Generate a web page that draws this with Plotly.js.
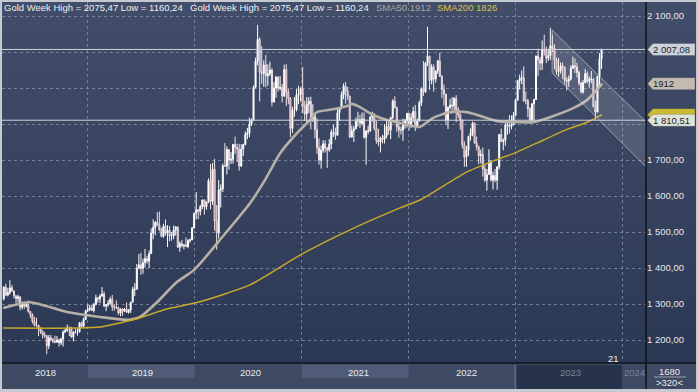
<!DOCTYPE html>
<html><head><meta charset="utf-8">
<script src="https://cdn.plot.ly/plotly-3.0.1.min.js"></script>
<style>
html,body{margin:0;padding:0;background:#c5c9d1;}
#wrap{position:relative;width:698px;height:392px;overflow:hidden;background:linear-gradient(to bottom,#414d69 0%,#36425e 50%,#2b3853 93%);}
#chart{position:absolute;left:0;top:0;width:698px;height:392px;}
#frame{position:absolute;left:0;top:0;width:698px;height:392px;box-sizing:border-box;border:2px solid #c5c9d1;border-bottom-width:3px;pointer-events:none;}
</style></head>
<body>
<div id="wrap"><div id="chart"></div><div id="frame"></div></div>
<script>
// ---- weekly OHLC, first bar = week of 2018-03-19 ----
const firstWeek = '2018-03-19';
const openPx = [
 1314,1347,1325,1332,1345,1336,1323,1315,1320,1291,1301,1294,1298,1279,1270,1252,1241,1241,1231,1223,1214,1212,1184,1206,1201,1197,1194,1200,1192,1203,1222,1227,1233,1233,1208,1222,1222,1222,1248,1238,1257,
 1281,1285,1289,1282,1298,1317,1314,1322,1328,1294,1298,1302,1313,1292,1291,1290,1275,1286,1280,1286,1277,1283,1305,1341,1341,1399,1409,1399,1415,1426,1419,1440,1497,1513,1527,1520,1507,1488,1516,1497,1505,1489,1490,1505,1514,1458,1468,1462,1464,1460,1476,1478,
 1511,1552,1562,1557,1571,1589,1570,1584,1643,1585,1674,1530,1498,1617,1620,1684,1683,1729,1700,1702,1743,1735,1730,1683,1730,1743,1771,1775,1799,1810,1902,1975,2035,1944,1940,1964,1934,1940,1950,1861,1900,1930,1899,1902,1878,1951,1889,1871,1788,1839,1839,1881,
 1883,1898,1850,1828,1855,1863,1814,1824,1784,1734,1700,1727,1745,1733,1728,1744,1777,1777,1769,1831,1844,1881,1905,1891,1877,1764,1781,1787,1808,1812,1802,1814,1763,1780,1781,1819,1827,1788,1754,1750,1761,1757,1768,1793,1783,1818,1864,1846,1792,1783,1783,1798,1808,
 1829,1797,1817,1835,1791,1808,1859,1898,1889,1970,1988,1921,1958,1925,1947,1975,1932,1896,1883,1811,1846,1853,1850,1871,1840,1826,1811,1742,1708,1727,1766,1775,1802,1747,1737,1712,1716,1675,1644,1660,1695,1644,1657,1644,1681,1771,1751,1755,1797,1797,1793,1798,
 1824,1866,1920,1926,1928,1865,1865,1842,1811,1856,1868,1989,1978,1969,2007,2004,1983,1990,2017,2011,1977,1946,1948,1961,1958,1921,1919,1925,1955,1962,1959,1943,1914,1889,1915,1940,1919,1924,1925,1849,1833,1932,1981
];
const highPx = [
 1349,1356,1345,1366,1353,1338,1324,1326,1321,1307,1307,1303,1310,1280,1274,1264,1262,1242,1235,1227,1222,1214,1214,1214,1206,1212,1211,1204,1207,1227,1233,1243,1237,1237,1225,1230,1231,1250,1251,1263,1284,
 1298,1298,1298,1303,1326,1320,1327,1347,1335,1300,1311,1320,1325,1300,1310,1293,1288,1289,1289,1304,1286,1306,1348,1358,1411,1439,1442,1426,1453,1434,1449,1510,1535,1530,1555,1557,1512,1523,1535,1519,1517,1500,1518,1516,1515,1474,1478,1466,1485,1480,1482,1514,
 1553,1611,1564,1575,1590,1591,1585,1649,1689,1692,1703,1575,1645,1632,1690,1747,1738,1730,1722,1745,1765,1745,1745,1744,1745,1779,1789,1818,1815,1907,1984,2075.47,2041,2016,1977,1992,1966,1973,1955,1917,1933,1933,1933,1911,1965,1966,1899,1875,1848,1875,1897,1906,
 1902,1959,1865,1875,1875,1876,1855,1826,1816,1760,1740,1755,1755,1736,1758,1785,1798,1790,1845,1846,1890,1913,1917,1903,1879,1795,1795,1818,1834,1825,1832,1832,1783,1795,1823,1834,1830,1809,1787,1765,1770,1800,1814,1810,1820,1869,1877,1848,1808,1793,1815,1814,1831,
 1831,1830,1848,1853,1815,1865,1902,1975,1972,2070,1990,1966,1966,1949,1978,1998,1936,1910,1884,1849,1870,1875,1875,1880,1847,1830,1812,1752,1739,1767,1788,1807,1804,1765,1740,1729,1735,1688,1675,1730,1700,1668,1675,1682,1772,1787,1760,1805,1810,1825,1824,1833,
 1870,1922,1937,1949,1960,1890,1870,1847,1858,1870,1990,2009,1986,2032,2048,2015,2009,2067,2048,2022,1985,1983,1971,1971,1959,1930,1935,1963,1987,1982,1970,1948,1917,1922,1953,1946,1932,1947,1926,1865,1933,1997,2009
];
const lowPx = [
 1310,1322,1321,1326,1334,1315,1302,1304,1282,1285,1286,1290,1276,1261,1246,1238,1236,1211,1217,1204,1206,1160.24,1175,1196,1191,1191,1192,1181,1186,1182,1219,1223,1211,1207,1196,1218,1212,1221,1234,1236,1256,
 1277,1280,1280,1276,1297,1304,1302,1320,1292,1280,1292,1298,1281,1281,1286,1270,1266,1267,1278,1275,1273,1275,1305,1322,1340,1397,1381,1384,1401,1412,1400,1439,1480,1491,1516,1502,1485,1484,1490,1458,1474,1476,1480,1490,1456,1445,1457,1452,1458,1455,1470,1478,
 1510,1535,1536,1546,1563,1548,1562,1580,1563,1575,1504,1451,1482,1568,1611,1681,1660,1673,1689,1690,1717,1694,1670,1681,1711,1741,1758,1763,1795,1808,1899,1963,1863,1911,1903,1902,1906,1933,1849,1860,1873,1890,1894,1860,1875,1850,1855,1764,1775,1820,1835,1855,
 1862,1830,1809,1802,1831,1785,1806,1760,1717,1687,1676,1720,1721,1678,1723,1730,1764,1756,1767,1808,1841,1869,1856,1866,1761,1762,1750,1785,1793,1789,1796,1759,1687,1772,1778,1807,1782,1745,1738,1721,1746,1746,1760,1770,1758,1813,1843,1778,1762,1771,1753,1787,1790,
 1782,1789,1805,1780,1788,1807,1850,1878,1886,1961,1895,1910,1890,1915,1939,1931,1872,1851,1797,1786,1840,1829,1836,1805,1816,1784,1732,1681,1681,1711,1754,1766,1745,1727,1688,1691,1654,1639,1615,1659,1640,1618,1638,1617,1674,1750,1727,1740,1770,1774,1785,1796,
 1824,1866,1896,1911,1861,1855,1819,1809,1804,1809,1868,1934,1949,1950,1990,1969,1975,1978,2000,1952,1937,1932,1940,1925,1910,1893,1903,1921,1953,1942,1929,1907,1885,1884,1913,1913,1901,1913,1846,1810.51,1833,1908,1953
];
const closePx = [
 1347,1325,1332,1345,1336,1323,1315,1320,1291,1301,1294,1298,1279,1270,1252,1241,1241,1231,1223,1214,1212,1184,1206,1201,1197,1194,1200,1192,1203,1222,1227,1233,1233,1208,1222,1222,1222,1248,1238,1257,1281,
 1285,1289,1282,1298,1317,1314,1322,1328,1294,1298,1302,1313,1292,1291,1290,1275,1286,1280,1286,1277,1283,1305,1341,1341,1399,1409,1399,1415,1426,1419,1440,1497,1513,1527,1520,1507,1488,1516,1497,1505,1489,1490,1505,1514,1458,1468,1462,1464,1460,1476,1478,1511,
 1552,1562,1557,1571,1589,1570,1584,1643,1585,1674,1530,1498,1617,1620,1684,1683,1729,1700,1702,1743,1735,1730,1683,1730,1743,1771,1775,1799,1810,1902,1975,2035,1944,1940,1964,1934,1940,1950,1861,1900,1930,1899,1902,1878,1951,1889,1871,1788,1839,1839,1881,1883,
 1898,1850,1828,1855,1863,1814,1824,1784,1734,1700,1727,1745,1733,1728,1744,1777,1777,1769,1831,1844,1881,1905,1891,1877,1764,1781,1787,1808,1812,1802,1814,1763,1780,1781,1819,1827,1788,1754,1750,1761,1757,1768,1793,1783,1818,1864,1846,1792,1783,1783,1798,1808,1829,
 1797,1817,1835,1791,1808,1859,1898,1889,1970,1988,1921,1958,1925,1947,1975,1932,1896,1883,1811,1846,1853,1850,1871,1840,1826,1811,1742,1708,1727,1766,1775,1802,1747,1737,1712,1716,1675,1644,1660,1695,1644,1657,1644,1681,1771,1751,1755,1797,1797,1793,1798,1824,
 1866,1920,1926,1928,1865,1865,1842,1811,1856,1868,1989,1978,1969,2007,2004,1983,1990,2017,2011,1977,1946,1948,1961,1958,1921,1919,1925,1955,1962,1959,1943,1914,1889,1915,1940,1919,1924,1925,1849,1833,1932,1981,2007.08
];
// ---- moving averages ----
const sma50Dates = ['2018-03-17','2018-06-17','2018-10-21','2019-02-11','2019-05-14','2019-06-28','2019-08-25','2019-11-01','2019-12-26','2020-01-19','2020-03-27','2020-07-08','2020-08-28','2020-10-19','2020-12-16','2021-01-29','2021-02-22','2021-04-18','2021-06-05','2021-06-22','2021-07-19','2021-09-02','2021-10-20','2021-12-03','2022-02-09','2022-03-26','2022-05-23','2022-07-20','2022-10-31','2022-12-25','2023-03-03','2023-04-30','2023-07-18','2023-09-04','2023-10-25'];
const sma50Vals = [1289,1305,1278,1264,1256,1264,1305,1361,1392,1412,1478,1580,1644,1719,1775,1811,1833,1841,1850,1856,1847,1825,1811,1803,1792,1817,1833,1833,1808,1806,1805,1819,1844,1867,1912];
const sma200Dates = ['2018-03-17','2018-12-05','2019-02-11','2019-06-04','2019-09-28','2020-01-19','2020-07-08','2020-12-26','2021-06-15','2021-12-03','2022-02-09','2022-07-20','2022-10-17','2023-01-07','2023-04-06','2023-06-27','2023-09-04','2023-10-25'];
const sma200Vals = [1233,1233,1236,1256,1286,1306,1353,1436,1506,1567,1589,1667,1697,1722,1755,1785,1805,1826];
// ---- levels, channel, labels ----
const levelLines = [2007.08, 1810.51];
const channelUpper = [['2023-05-07',2061],['2024-03-23',1806]];
const channelLower = [['2023-05-07',1942],['2024-03-23',1681]];
const yTicks = [1200,1300,1400,1500,1600,1700,1800,1900,2000,2100];
const yTickText = ['1 200,00','1 300,00','1 400,00','1 500,00','1 600,00','1 700,00','','','','2 100,00'];
const years = ['2018','2019','2020','2021','2022','2023','2024'];
const yearStarts = ['2019-01-01','2020-01-01','2021-01-01','2022-01-01','2023-01-01','2024-01-01'];
const headerMain = 'Gold Week High = 2075,47 Low = 1160,24';
const sma50Label = 'SMA50 1912', sma200Label = 'SMA200 1826';
const lastTags = [{v:2007.08,t:'2 007,08',c:'#cdd1d8'},{v:1912,t:'1912',c:'#c3bbb0'},{v:1826,t:'',c:'#cdbb33'},{v:1810.51,t:'1 810,51',c:'#dee3d6'}];

function weekDate(i){const d=new Date(firstWeek+'T00:00:00Z');d.setUTCDate(d.getUTCDate()+7*i);return d.toISOString().slice(0,10);}
const weeks = openPx.map((_,i)=>weekDate(i));

const FONT = 'Liberation Sans, Arial, sans-serif';
const P = px => (px-2)/644;          // pixel x -> paper x
const Q = py => (363-py)/361;        // pixel y -> paper y
const yR = [1136.1, 2138.9];
const ppx = (yR[1]-yR[0])/361;

const shapes = [];
// channel
shapes.push({type:'path', xref:'x', yref:'y', layer:'above',
  path:`M${channelUpper[0][0]},${channelUpper[0][1]} L${channelUpper[1][0]},${channelUpper[1][1]} L${channelLower[1][0]},${channelLower[1][1]} L${channelLower[0][0]},${channelLower[0][1]} Z`,
  fillcolor:'rgba(255,255,255,0.13)', line:{color:'rgba(220,224,232,0.55)', width:1}});
levelLines.forEach(v=>shapes.push({type:'line', xref:'paper', yref:'y', x0:0, x1:1, y0:v, y1:v, line:{color:'#cfd3da', width:1}, layer:'above'}));
// bottom band
shapes.push({type:'rect', xref:'paper', yref:'paper', x0:P(0), x1:P(698), y0:Q(363), y1:Q(392), fillcolor:'#3e4963', line:{width:0}});
[['2019-01-01','2020-01-01'],['2021-01-01','2022-01-01']].forEach(b=>shapes.push({type:'rect', xref:'x', yref:'paper', x0:b[0], x1:b[1], y0:Q(365), y1:Q(378), fillcolor:'#4f5b77', line:{width:0}}));
shapes.push({type:'rect', xref:'x', yref:'paper', x0:'2023-01-01', x1:'2024-01-01', y0:Q(365), y1:Q(390), fillcolor:'#27334b', line:{width:0}});
shapes.push({type:'line', xref:'x', yref:'paper', x0:'2023-01-01', x1:'2023-01-01', y0:Q(365), y1:Q(390), line:{color:'#5a6680', width:2}});
// separators
shapes.push({type:'line', xref:'paper', yref:'paper', x0:P(0), x1:P(698), y0:0, y1:0, line:{color:'#0e1218', width:1.5}});
shapes.push({type:'line', xref:'paper', yref:'paper', x0:1, x1:1, y0:Q(0), y1:Q(392), line:{color:'#0e1218', width:1.5}});
shapes.push({type:'line', xref:'paper', yref:'paper', x0:P(654), x1:P(686), y0:Q(377), y1:Q(377), line:{color:'#9aa3b5', width:1}});
// price tags
lastTags.forEach(g=>{
  const h=6*ppx, x0=P(647.5), x1=P(653), x2=P(695);
  shapes.push({type:'path', xref:'paper', yref:'y', layer:'above',
    path:`M${x0},${g.v} L${x1},${g.v+h} L${x2},${g.v+h} L${x2},${g.v-h} L${x1},${g.v-h} Z`,
    fillcolor:g.c, line:{color:'rgba(60,70,90,0.6)', width:0.5}});
});

const ann = [];
const txt = (text,x,y,color,size,anchor) => ({text, xref:'paper', yref:'paper', x, y, xanchor:anchor||'left', yanchor:'middle', showarrow:false, font:{family:FONT, size:size||9.5, color}});
ann.push(txt(headerMain, P(2), Q(8), '#eef0f4'));
ann.push(txt(headerMain, P(188), Q(8), '#eef0f4'));
ann.push(txt(sma50Label, P(374), Q(8), '#aca79f'));
ann.push(txt(sma200Label, P(435), Q(8), '#d8c24c'));
const yearCenters = [45,142,250,358,466,570,634];
const yearColors = ['#e8ebf0','#e8ebf0','#e8ebf0','#e8ebf0','#e8ebf0','#7a8399','#7a8399'];
years.forEach((y,i)=>ann.push(txt(y, P(yearCenters[i]), Q(372), yearColors[i], 9.5, 'center')));
ann.push(txt('1680', P(669), Q(371), '#e8ebf0', 9.5, 'center'));
ann.push(txt('>320<', P(669), Q(383), '#e8ebf0', 9.5, 'center'));
ann.push(txt('21', P(613), Q(358), '#eef0f4', 9.5, 'center'));
lastTags.forEach(g=>{ if(g.t) ann.push({text:g.t, xref:'paper', yref:'y', x:P(651), y:g.v, xanchor:'left', yanchor:'middle', showarrow:false, font:{family:FONT, size:9.5, color:'#1a2131'}}); });

const traces = [
 {type:'candlestick', x:weeks, open:openPx, high:highPx, low:lowPx, close:closePx,
  increasing:{line:{color:'#ffffff', width:1}, fillcolor:'#ffffff'},
  decreasing:{line:{color:'#f2e3e8', width:1}, fillcolor:'#b02f4c'},
  whiskerwidth:0, hoverinfo:'skip'},
 {type:'scatter', mode:'lines', x:sma50Dates, y:sma50Vals, line:{color:'#b6b0a7', width:2.6, shape:'spline', smoothing:0.6}, hoverinfo:'skip'},
 {type:'scatter', mode:'lines', x:sma200Dates, y:sma200Vals, line:{color:'#c9a92a', width:1.5, shape:'spline', smoothing:0.5}, hoverinfo:'skip'}
];

const layout = {
  width:698, height:392, margin:{l:2, r:52, t:2, b:29, pad:0},
  paper_bgcolor:'rgba(0,0,0,0)', plot_bgcolor:'rgba(0,0,0,0)', showlegend:false,
  xaxis:{type:'date', range:['2018-03-13','2024-03-23'], rangeslider:{visible:false}, showticklabels:false,
    tickmode:'array', tickvals:yearStarts, showgrid:true, gridcolor:'rgba(140,152,180,0.7)', griddash:'3px,3px', gridwidth:1,
    zeroline:false, showline:false, ticks:''},
  yaxis:{side:'right', range:yR, tickmode:'array', tickvals:yTicks, ticktext:yTickText, showgrid:true,
    gridcolor:'rgba(140,152,180,0.7)', griddash:'3px,3px', gridwidth:1, zeroline:false, showline:false, ticks:'',
    tickfont:{family:FONT, size:9.5, color:'#e4e7ec'}},
  shapes, annotations:ann
};
Plotly.newPlot('chart', traces, layout, {staticPlot:true, displayModeBar:false});
</script>
</body></html>
